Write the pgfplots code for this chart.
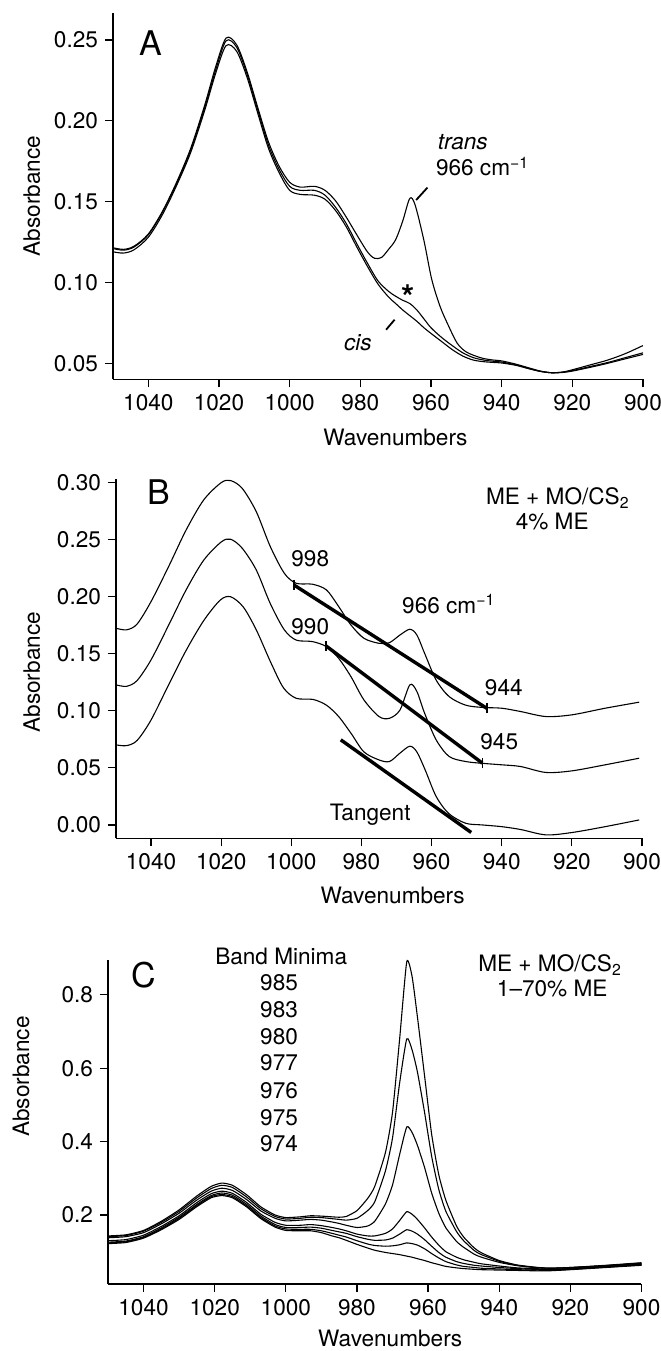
\documentclass[border=0pt]{standalone}
\usepackage{pgfplots}
\usepackage{pgfplotstable}
\pgfplotsset{compat=1.18}
\usepackage{fontspec}
\setmainfont{TeX Gyre Heros}
\newcommand{\tickfont}{\fontsize{11.3}{13}\selectfont}
\newcommand{\bigfont}{\fontsize{17}{20}\selectfont}
\pgfplotsset{
  curve/.style={black, line width=0.55pt, smooth, tension=0.5, mark=none},
  seg/.style={black, line width=#1, mark=none},
  myaxis/.style={
    scale only axis, x dir=reverse, xmin=900, xmax=1050,
    axis x line*=bottom, axis y line*=left,
    axis line style={-, line width=0.6pt},
    tick align=outside, major tick length=4pt,
    tick style={black, line width=0.6pt},
    xtick={900,920,...,1040},
    xticklabel style={font=\tickfont, /pgf/number format/1000 sep={}},
    yticklabel style={font=\tickfont},
    scaled y ticks=false,
    /pgf/number format/assume math mode=true,
    clip=false,
    label style={font=\tickfont},
    xlabel={Wavenumbers}, ylabel={Absorbance},
    cycle list={{black, mark=none}},
  }
}
\begin{document}
\begin{tikzpicture}
\path[use as bounding box] (0,0) rectangle (330pt,675.5pt);
% ---------------- Panel A
\begin{axis}[myaxis, at={(56.5pt,485.75pt)}, anchor=south west,
  width=265pt, height=183.25pt, ymin=0.04, ymax=0.2667,
  ytick={0.05,0.10,0.15,0.20,0.25},
  yticklabel style={/pgf/number format/.cd, fixed, fixed zerofill, precision=2},
  xlabel style={at={(axis description cs:0.533,-0.158)}, anchor=center},
  ylabel style={at={(axis description cs:-0.153,0.5)}, anchor=center}]
\addplot[curve] coordinates {(1050,.1215)(1047,.1205)(1044,.1225)(1040,.1300)(1036,.1440)(1032,.1620)(1028,.1830)(1024,.2100)(1021,.2330)(1018,.2512)(1015,.2470)(1012,.2300)(1009,.2080)(1006,.1870)(1003,.1720)(1000,.1620)(997,.1590)(993,.1595)(990,.1570)(987,.1505)(984,.1405)(981,.1295)(978,.1190)(976,.1150)(974,.1155)(972,.1205)(970,.1265)(968,.1380)(966,.1520)(964.5,.1480)(962,.1260)(959.8,.1020)(957.4,.0850)(955,.0730)(952.6,.0625)(950,.0570)(946,.0535)(943,.0522)(940,.0515)(936,.0495)(932,.0470)(929,.0452)(926,.0442)(923,.0445)(920,.0460)(915,.0490)(910,.0520)(905,.0560)(900,.0610)};
\addplot[curve] coordinates {(1050,.1210)(1047,.1200)(1044,.1220)(1040,.1295)(1036,.1435)(1032,.1612)(1028,.1820)(1024,.2085)(1021,.2310)(1018,.2495)(1015,.2455)(1012,.2285)(1009,.2065)(1006,.1850)(1003,.1700)(1000,.1595)(997,.1570)(993,.1570)(990,.1540)(987,.1465)(984,.1365)(981,.1240)(978,.1120)(975,.1010)(972,.0945)(970,.0915)(968,.0890)(966,.0870)(964,.0830)(962,.0775)(960,.0720)(957,.0660)(954,.0610)(951,.0565)(948,.0535)(945,.0520)(942,.0512)(940,.0508)(936,.0490)(932,.0466)(929,.0450)(926,.0442)(923,.0445)(920,.0455)(915,.0480)(910,.0505)(905,.0535)(900,.0565)};
\addplot[curve] coordinates {(1050,.1190)(1047,.1182)(1044,.1203)(1040,.1280)(1036,.1420)(1032,.1600)(1028,.1805)(1024,.2068)(1021,.2290)(1018,.2465)(1015,.2430)(1012,.2265)(1009,.2045)(1006,.1830)(1003,.1680)(1000,.1570)(997,.1545)(993,.1540)(990,.1515)(987,.1445)(984,.1345)(981,.1220)(978,.1100)(975,.0990)(972,.0910)(970,.0870)(968,.0830)(966,.0795)(964,.0760)(962,.0720)(960,.0685)(957,.0635)(954,.0585)(951,.0545)(948,.0520)(945,.0510)(942,.0505)(940,.0502)(936,.0488)(932,.0465)(929,.0450)(926,.0442)(923,.0443)(920,.0452)(915,.0475)(910,.0500)(905,.0528)(900,.0555)};
\addplot[seg=0.9pt] coordinates {(964.2,0.151)(961.0,0.1587)};
\addplot[seg=0.9pt] coordinates {(972.7,0.0708)(970.3,0.0770)};
\node[font=\bigfont] at (axis cs:1039.4,0.248) {A};
\node[font=\tickfont] at (axis cs:951.0,0.187) {\itshape trans};
\node[font=\tickfont] at (axis cs:945.4,0.1717) {966 cm\textsuperscript{−1}};
\node[font=\bigfont\bfseries] at (axis cs:966.6,0.091) {*};
\node[font=\tickfont] at (axis cs:980.7,0.0625) {\itshape cis};
\end{axis}
% ---------------- Panel B
\begin{axis}[myaxis, at={(58pt,256.35pt)}, anchor=south west,
  width=263pt, height=179.65pt, ymin=-0.0117, ymax=0.3032,
  ytick={0,0.05,0.10,0.15,0.20,0.25,0.30},
  yticklabel style={/pgf/number format/.cd, fixed, fixed zerofill, precision=2},
  xlabel style={at={(axis description cs:0.526,-0.159)}, anchor=center},
  ylabel style={at={(axis description cs:-0.16,0.462)}, anchor=center}]
\addplot[curve] coordinates {(1050,.1724)(1047,.1710)(1044,.1760)(1040,.1958)(1035,.2264)(1030,.2585)(1025,.2848)(1020,.3000)(1017.3,.3018)(1014,.2950)(1010,.2746)(1006,.2440)(1002,.2206)(998.6,.2118)(994,.2110)(990,.2060)(986.5,.1914)(983,.1753)(979.3,.1636)(975,.1592)(972,.1598)(969,.1665)(966.2,.1715)(964.2,.1665)(962,.1505)(958.7,.1270)(955,.1125)(950.3,.1050)(945.5,.1030)(940,.1023)(934.6,.0994)(927.4,.0950)(920,.0965)(910.5,.1023)(900.8,.1076)};
\addplot[curve] coordinates {(1050,.1228)(1047,.1215)(1044,.1265)(1040,.1447)(1035,.1750)(1030,.2060)(1025,.2320)(1020,.2480)(1017.3,.2504)(1014,.2425)(1010,.2235)(1006,.1940)(1002,.1710)(998.6,.1620)(994,.1607)(990,.1563)(986.5,.1460)(983,.1300)(979.3,.1096)(975,.0950)(972,.0935)(969,.1008)(966.2,.1228)(964.2,.1170)(962,.0980)(958.7,.0746)(955,.0600)(950.3,.0556)(945.5,.0540)(940,.0527)(934.6,.0512)(927.4,.0460)(920,.0474)(910.5,.0527)(900.8,.0585)};
\addplot[curve] coordinates {(1050,.0702)(1047,.0695)(1044,.0740)(1040,.0920)(1034.8,.1240)(1030,.1530)(1025,.1790)(1020.3,.1970)(1017.3,.2000)(1013.7,.1910)(1010,.1710)(1005.8,.1420)(1002.2,.1200)(998.6,.1110)(993.8,.1100)(990,.1050)(986.5,.0950)(982.9,.0800)(979.3,.0640)(975,.0570)(972,.0556)(969,.0630)(966.2,.0690)(964.2,.0640)(961.8,.0480)(958.7,.0250)(955.1,.0100)(950.3,.0015)(945.5,.0000)(940,-.0015)(934.6,-.0040)(927.4,-.0087)(920.1,-.0067)(910.5,-.0015)(900.8,.0044)};
\addplot[seg=1.7pt] coordinates {(999.3,0.2104)(944.3,0.1023)};
\addplot[seg=1.7pt] coordinates {(990.1,0.1569)(945.5,0.0541)};
\addplot[seg=1.7pt] coordinates {(985.9,0.0746)(948.7,-0.0066)};
\addplot[seg=0.9pt] coordinates {(999.3,0.2058)(999.3,0.2150)};
\addplot[seg=0.9pt] coordinates {(944.3,0.0977)(944.3,0.1069)};
\addplot[seg=0.9pt] coordinates {(990.1,0.1523)(990.1,0.1615)};
\addplot[seg=0.9pt] coordinates {(945.5,0.0495)(945.5,0.0587)};
\node[font=\bigfont] at (axis cs:1037.8,0.292) {B};
\node[font=\tickfont] at (axis cs:924.0,0.2863) {ME + MO/CS\textsubscript{2}};
\node[font=\tickfont] at (axis cs:925.6,0.2660) {4\% ME};
\node[font=\tickfont] at (axis cs:994.6,0.2337) {998};
\node[font=\tickfont] at (axis cs:994.6,0.1739) {990};
\node[font=\tickfont] at (axis cs:955.1,0.1937) {966 cm\textsuperscript{−1}};
\node[font=\tickfont] at (axis cs:939.4,0.1207) {944};
\node[font=\tickfont] at (axis cs:940.7,0.0728) {945};
\node[font=\tickfont] at (axis cs:977.5,0.0089) {Tangent};
\end{axis}
% ---------------- Panel C
\pgfplotstableread{
x c1 c2 c3 c4 c5 c6 c7
1050 .143 .141 .138 .130 .126 .124 .122
1045 .146 .144 .141 .133 .129 .127 .125
1040 .158 .156 .152 .145 .141 .139 .137
1035 .183 .180 .176 .169 .165 .162 .160
1030 .214 .210 .205 .198 .194 .191 .188
1025 .252 .247 .241 .234 .229 .226 .223
1021 .278 .272 .265 .258 .253 .250 .247
1018 .287 .281 .273 .265 .260 .256 .253
1015 .281 .275 .267 .259 .254 .250 .247
1011 .255 .249 .242 .234 .229 .225 .222
1007 .222 .217 .211 .202 .197 .193 .190
1003 .200 .196 .191 .180 .174 .170 .167
1000 .193 .189 .184 .172 .166 .162 .158
996 .195 .191 .186 .172 .166 .161 .157
993 .198 .194 .188 .174 .167 .161 .157
990 .197 .193 .186 .171 .164 .157 .152
987 .195 .190 .181 .166 .158 .150 .143
985 .194 .188 .177 .162 .154 .145 .138
983 .196 .186 .172 .157 .150 .140 .131
980 .212 .191 .166 .148 .141 .130 .120
977 .245 .212 .170 .143 .134 .121 .110
975 .278 .236 .183 .143 .131 .117 .104
972 .370 .320 .230 .150 .132 .115 .098
970 .480 .410 .282 .162 .137 .116 .095
968 .680 .560 .365 .185 .148 .119 .092
966 .890 .680 .440 .209 .160 .124 .088
964.5 .850 .650 .425 .202 .156 .122 .085
963 .740 .590 .390 .188 .148 .118 .081
961 .580 .480 .330 .165 .133 .108 .076
959 .420 .360 .260 .140 .115 .095 .070
957 .310 .270 .205 .118 .098 .083 .065
955 .240 .210 .165 .100 .085 .073 .060
952 .170 .155 .128 .085 .073 .064 .056
950 .140 .130 .112 .078 .068 .060 .054
947 .110 .103 .093 .071 .063 .057 .052
945 .097 .092 .085 .067 .061 .055 .051
940 .076 .074 .071 .061 .057 .053 .050
935 .064 .063 .062 .056 .054 .051 .049
930 .058 .057 .057 .054 .052 .050 .048
926 .055 .055 .055 .052 .051 .049 .048
920 .057 .057 .056 .054 .053 .052 .051
910 .063 .062 .062 .060 .059 .058 .057
900 .070 .069 .068 .066 .065 .064 .063
}\datC
\begin{axis}[myaxis, at={(54pt,33.5pt)}, anchor=south west,
  width=266.75pt, height=162pt, ymin=0.012, ymax=0.895,
  ytick={0.2,0.4,0.6,0.8},
  yticklabel style={/pgf/number format/.cd, fixed, fixed zerofill, precision=1},
  xlabel style={at={(axis description cs:0.529,-0.167)}, anchor=center},
  ylabel style={at={(axis description cs:-0.163,0.64)}, anchor=center}]
\addplot[curve, tension=0.35] table[x=x,y=c1] {\datC};
\addplot[curve, tension=0.35] table[x=x,y=c2] {\datC};
\addplot[curve, tension=0.35] table[x=x,y=c3] {\datC};
\addplot[curve, tension=0.35] table[x=x,y=c4] {\datC};
\addplot[curve, tension=0.35] table[x=x,y=c5] {\datC};
\addplot[curve, tension=0.35] table[x=x,y=c6] {\datC};
\addplot[curve, tension=0.35] table[x=x,y=c7] {\datC};
\node[font=\bigfont] at (axis cs:1040,0.8545) {C};
\node[font=\tickfont] at (axis cs:1001.3,0.9045) {Band Minima};
\node[font=\tickfont] at (axis cs:1001.9,0.832) {985};
\node[font=\tickfont] at (axis cs:1001.9,0.759) {983};
\node[font=\tickfont] at (axis cs:1001.9,0.686) {980};
\node[font=\tickfont] at (axis cs:1001.9,0.614) {977};
\node[font=\tickfont] at (axis cs:1001.9,0.539) {976};
\node[font=\tickfont] at (axis cs:1001.9,0.466) {975};
\node[font=\tickfont] at (axis cs:1001.9,0.394) {974};
\node[font=\tickfont] at (axis cs:925.7,0.882) {ME + MO/CS\textsubscript{2}};
\node[font=\tickfont] at (axis cs:925.1,0.818) {1–70\% ME};
\end{axis}
\end{tikzpicture}
\end{document}
